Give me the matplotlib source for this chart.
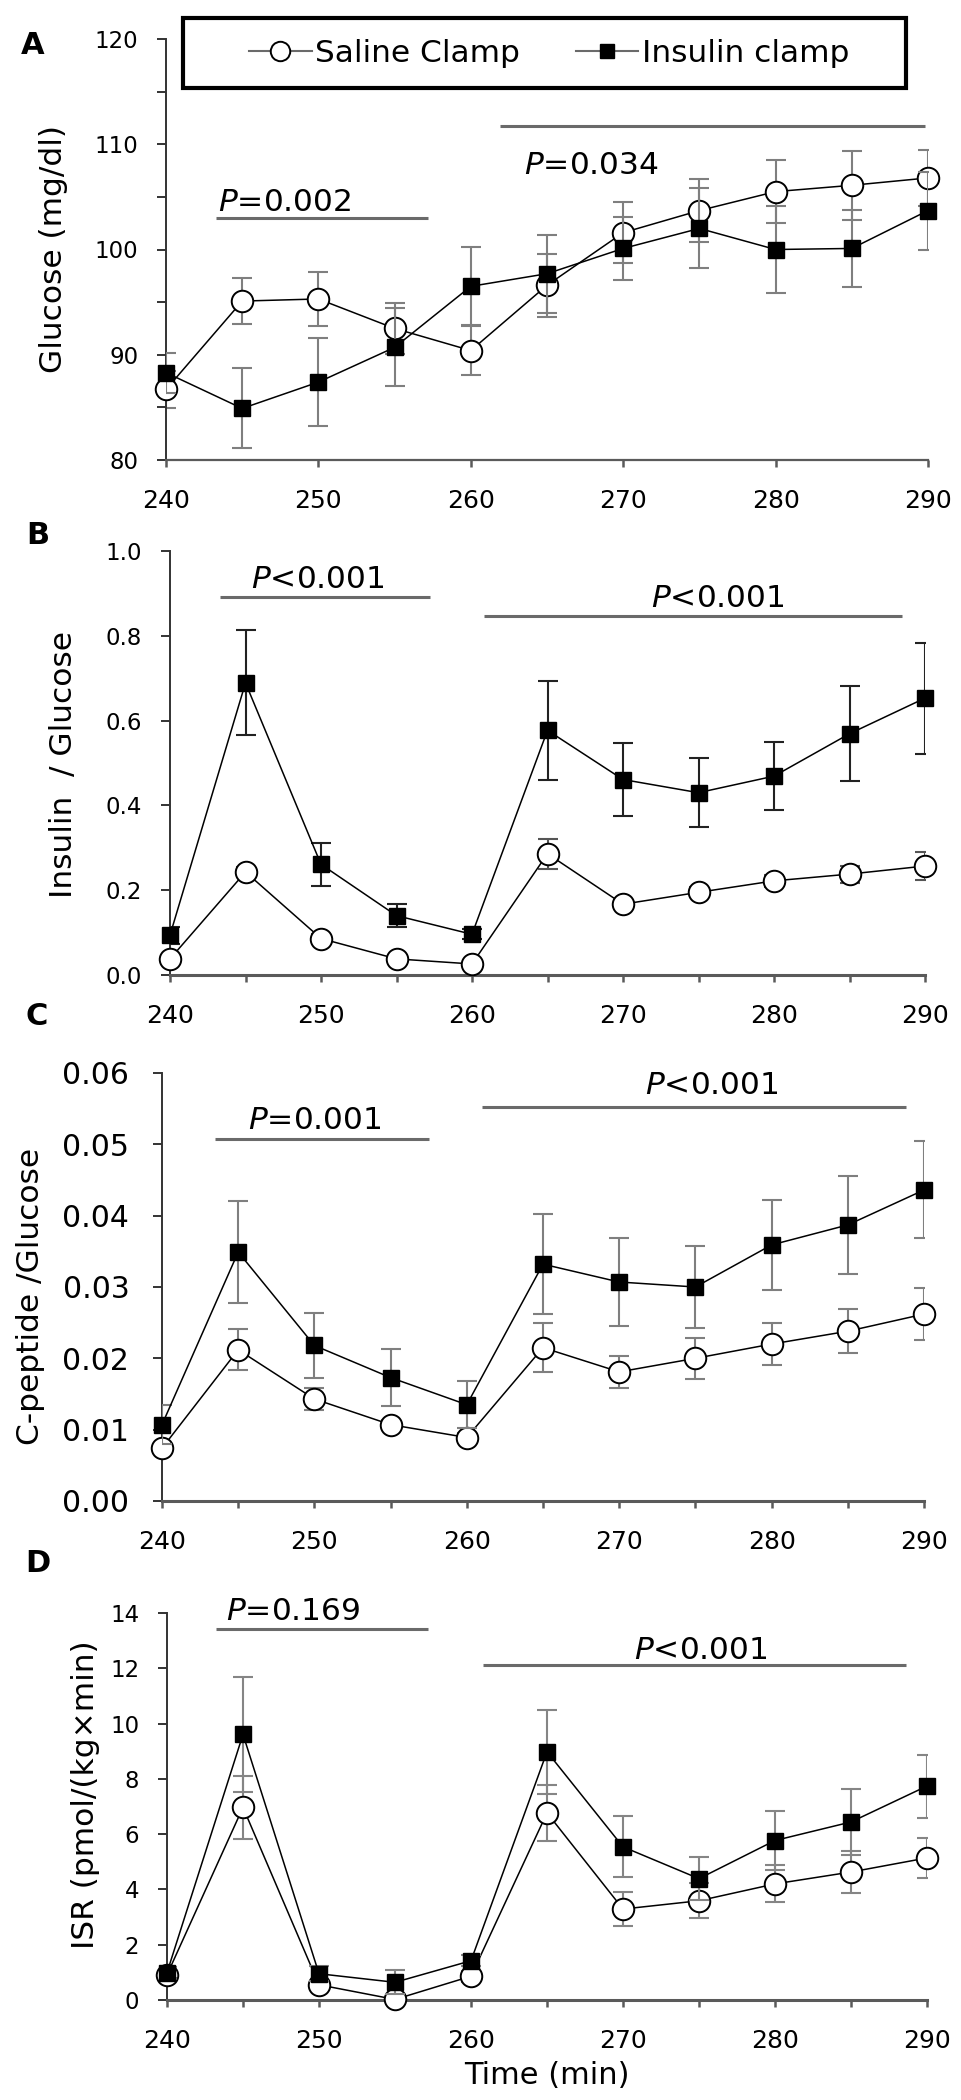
import matplotlib
matplotlib.use("Agg")
import matplotlib.pyplot as plt
from matplotlib.lines import Line2D
from matplotlib.patches import Rectangle
from matplotlib.ticker import MultipleLocator, FormatStrFormatter

# time points (min)
time_min = [240, 245, 250, 255, 260, 265, 270, 275, 280, 285, 290]

# A: glucose (mg/dl)
glucose_saline = [86.7, 95.1, 95.3, 92.5, 90.4, 96.6, 101.6, 103.7, 105.5, 106.1, 106.8]
glucose_saline_err = [1.8, 2.2, 2.6, 2.4, 2.3, 3.0, 2.9, 3.0, 3.0, 3.3, 2.7]
glucose_insulin = [88.3, 84.9, 87.4, 90.7, 96.5, 97.7, 100.1, 102.0, 100.0, 100.1, 103.7]
glucose_insulin_err = [1.9, 3.8, 4.2, 3.7, 3.7, 3.7, 3.0, 3.8, 4.1, 3.7, 3.7]

# B: insulin / glucose
ins_saline = [0.038, 0.243, 0.086, 0.038, 0.026, 0.286, 0.167, 0.195, 0.222, 0.238, 0.257]
ins_saline_err = [0.010, 0.012, 0.010, 0.008, 0.008, 0.035, 0.010, 0.012, 0.015, 0.020, 0.033]
ins_insulin = [0.094, 0.689, 0.261, 0.140, 0.096, 0.577, 0.461, 0.430, 0.469, 0.569, 0.653]
ins_insulin_err = [0.020, 0.124, 0.051, 0.027, 0.012, 0.116, 0.085, 0.082, 0.080, 0.112, 0.131]

# C: C-peptide / glucose
cpep_saline = [0.0074, 0.0212, 0.0143, 0.0107, 0.0089, 0.0215, 0.0181, 0.0200, 0.0220, 0.0238, 0.0262]
cpep_saline_err = [0.0006, 0.0029, 0.0015, 0.0007, 0.0006, 0.0034, 0.0022, 0.0029, 0.0030, 0.0031, 0.0036]
cpep_insulin = [0.0107, 0.0349, 0.0218, 0.0173, 0.0135, 0.0332, 0.0307, 0.0300, 0.0359, 0.0387, 0.0436]
cpep_insulin_err = [0.0027, 0.0072, 0.0045, 0.0040, 0.0033, 0.0070, 0.0061, 0.0058, 0.0063, 0.0069, 0.0068]

# D: insulin secretion rate
isr_saline = [0.91, 6.97, 0.55, 0.02, 0.86, 6.77, 3.29, 3.59, 4.20, 4.63, 5.14]
isr_saline_err = [0.15, 1.15, 0.10, 0.10, 0.20, 1.00, 0.60, 0.63, 0.67, 0.77, 0.71]
isr_insulin = [0.99, 9.61, 0.95, 0.64, 1.42, 8.98, 5.54, 4.39, 5.77, 6.44, 7.74]
isr_insulin_err = [0.20, 2.09, 0.27, 0.44, 0.20, 1.51, 1.10, 0.78, 1.08, 1.20, 1.14]

series_labels = ["Saline Clamp", "Insulin clamp"]

# significance bars: (start, end, bar level, p text, text x, text y)
sig_a = [(243.3, 257.2, 103.0, "=0.002", 247.8, 104.5),
         (261.9, 289.8, 111.7, "=0.034", 267.9, 108.0)]
sig_b = [(243.3, 257.2, 0.891, "<0.001", 249.8, 0.932),
         (260.8, 288.5, 0.847, "<0.001", 276.3, 0.889)]
sig_c = [(243.5, 257.5, 0.0507, "=0.001", 250.0, 0.0533),
         (261.0, 288.8, 0.0553, "<0.001", 276.1, 0.0583)]
sig_d = [(243.2, 257.2, 13.42, "=0.169", 248.3, 14.07),
         (260.8, 288.6, 12.12, "<0.001", 275.1, 12.66)]

W, H = 961, 2100
fig = plt.figure(figsize=(W / 100, H / 100), dpi=100)


def add_axes_px(left, right, top, bottom):
    return fig.add_axes([left / W, 1 - bottom / H, (right - left) / W, (bottom - top) / H])


def draw_panel(ax, saline, saline_err, insulin, insulin_err, sig,
               ylim, ystep, yfmt, yminor=None, xminor=True,
               err_col="#7f7f7f", ins_err_col=None, ylab_size=16.5, ypad=13.5,
               xspine_lw=2.2):
    if ins_err_col is None:
        ins_err_col = err_col
    ax.errorbar(time_min, saline, yerr=saline_err, fmt="none", ecolor=err_col,
                elinewidth=1.5, capsize=7.5, capthick=1.5, zorder=2)
    ax.plot(time_min, saline, "-o", color="black", lw=1.1, ms=15.5, mfc="white",
            mec="black", mew=1.4, zorder=3, clip_on=False)
    ax.errorbar(time_min, insulin, yerr=insulin_err, fmt="none", ecolor=ins_err_col,
                elinewidth=1.5, capsize=7.5, capthick=1.5, zorder=4)
    ax.plot(time_min, insulin, "-s", color="black", lw=1.1, ms=11.5, mfc="black",
            mec="black", zorder=5, clip_on=False)

    for x0, x1, yb, txt, tx, ty in sig:
        ax.plot([x0, x1], [yb, yb], color="#6a6a6a", lw=2.2, clip_on=False,
                solid_capstyle="butt")
        ax.text(tx, ty, r"$\it{P}$" + txt, ha="center", va="center", fontsize=22.5)

    ax.set_xlim(240, 290)
    ax.set_ylim(*ylim)
    ax.xaxis.set_major_locator(MultipleLocator(10))
    if xminor:
        ax.xaxis.set_minor_locator(MultipleLocator(5))
    ax.yaxis.set_major_locator(MultipleLocator(ystep))
    ax.yaxis.set_major_formatter(FormatStrFormatter(yfmt))
    if yminor:
        ax.yaxis.set_minor_locator(MultipleLocator(yminor))

    for side in ("top", "right"):
        ax.spines[side].set_visible(False)
    ax.spines["left"].set_color("#333333")
    ax.spines["left"].set_linewidth(1.4)
    ax.spines["bottom"].set_color("#5a5a5a")
    ax.spines["bottom"].set_linewidth(xspine_lw)

    ax.tick_params(axis="y", which="both", direction="out", length=6.5, width=1.4,
                   color="#333333", pad=ypad, labelsize=ylab_size)
    ax.tick_params(axis="x", which="both", direction="out", length=5, width=1.8,
                   color="#5a5a5a", pad=16, labelsize=18)


ax_a = add_axes_px(166, 928, 39, 460)
draw_panel(ax_a, glucose_saline, glucose_saline_err, glucose_insulin, glucose_insulin_err,
           sig_a, (80, 120), 10, "%d", yminor=5, xminor=False, xspine_lw=1.6)

ax_b = add_axes_px(170, 925, 551, 975)
draw_panel(ax_b, ins_saline, ins_saline_err, ins_insulin, ins_insulin_err,
           sig_b, (0, 1.0), 0.2, "%.1f", err_col="#555555", ins_err_col="#222222")

ax_c = add_axes_px(162, 924, 1073, 1501)
draw_panel(ax_c, cpep_saline, cpep_saline_err, cpep_insulin, cpep_insulin_err,
           sig_c, (0, 0.06), 0.01, "%.2f", ylab_size=21.5, ypad=17)

ax_d = add_axes_px(167, 927, 1613, 2000)
draw_panel(ax_d, isr_saline, isr_saline_err, isr_insulin, isr_insulin_err,
           sig_d, (0, 14), 2, "%d", err_col="#858585")

# y labels
ylabels = [("Glucose (mg/dl)", 54, 249), ("Insulin  / Glucose", 64, 764),
           ("C-peptide /Glucose", 31, 1296), ("ISR (pmol/(kg×min)", 86, 1795)]
for txt, x, y in ylabels:
    fig.text(x / W, 1 - y / H, txt, rotation=90, ha="center", va="center", fontsize=22.5)

# panel letters
for letter, x, y in [("A", 33, 45), ("B", 38, 535), ("C", 37, 1017), ("D", 38, 1563)]:
    fig.text(x / W, 1 - y / H, letter, ha="center", va="center", fontsize=22,
             fontweight="bold")

fig.text(547 / W, 1 - 2076 / H, "Time (min)", ha="center", va="center", fontsize=22)

# legend box
fig.patches.append(Rectangle((183 / W, 1 - 88 / H), 723 / W, 70 / H,
                             transform=fig.transFigure, fc="white", ec="black",
                             lw=3, zorder=4))
handles = [
    Line2D([], [], color="#6a6a6a", lw=1.5, marker="o", ms=14, mfc="white",
           mec="black", mew=1.4),
    Line2D([], [], color="#6a6a6a", lw=1.5, marker="s", ms=10, mfc="black",
           mec="black"),
]
leg = fig.legend(handles, series_labels, loc="center", bbox_to_anchor=(549 / W, 1 - 53 / H),
                 ncol=2, frameon=False, fontsize=22.5, handlelength=2.0,
                 handletextpad=0.1, columnspacing=1.8)
leg.set_zorder(6)

fig.savefig("out.png", dpi=100)
